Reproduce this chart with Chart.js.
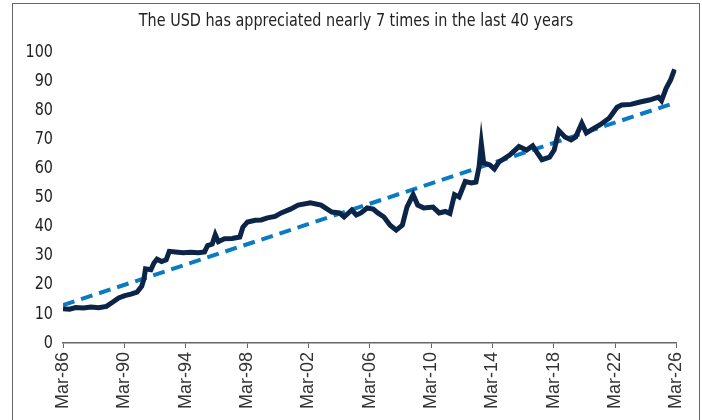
<!DOCTYPE html>
<html>
<head>
<meta charset="utf-8">
<script src="https://cdn.jsdelivr.net/npm/chart.js@4"></script>
<style>
  body { margin: 0; background: #fff; }
  #wrap { position: relative; width: 702px; height: 420px; overflow: hidden; }
  #frame { position: absolute; left: 12px; top: 3px; width: 688px; height: 440px; border: 1px solid #666; box-sizing: border-box; }
  canvas { position: absolute; left: 0; top: 0; }
</style>
</head>
<body>
<div id="wrap">
  <div id="frame"></div>
  <canvas id="grafico" width="702" height="420"></canvas>
</div>
<script>
// datas em anos decimais (Mar-86 = 1986.17)
const datas = [
  1986.17, 1986.6, 1987.0, 1987.5, 1988.0, 1988.5, 1989.0, 1989.4, 1989.8, 1990.2,
  1990.6, 1991.0, 1991.3, 1991.45, 1991.55, 1991.9, 1992.1, 1992.3, 1992.6, 1992.9,
  1993.1, 1993.5, 1994.0, 1994.5, 1995.0, 1995.4, 1995.6, 1995.9, 1996.1, 1996.3,
  1996.7, 1997.2, 1997.7, 1997.9, 1998.2, 1998.7, 1999.1, 1999.5, 2000.0, 2000.4,
  2001.0, 2001.5, 2002.3, 2003.0, 2003.7, 2004.2, 2004.5, 2005.0, 2005.3, 2005.6,
  2006.0, 2006.4, 2006.7, 2007.1, 2007.5, 2007.9, 2008.3, 2008.6, 2009.0, 2009.3,
  2009.7, 2010.3, 2010.7, 2011.1, 2011.4, 2011.7, 2012.0, 2012.4, 2012.8, 2013.1,
  2013.3, 2013.45, 2013.6, 2014.0, 2014.3, 2014.6, 2015.3, 2015.9, 2016.4, 2016.8,
  2017.1, 2017.4, 2017.9, 2018.2, 2018.5, 2018.9, 2019.3, 2019.6, 2020.0, 2020.3,
  2020.7, 2021.2, 2021.8, 2022.3, 2022.6, 2023.2, 2023.8, 2024.4, 2025.0, 2025.2,
  2025.5, 2025.8, 2026.05
];
const usd = [
  11.8, 11.6, 12.2, 12.0, 12.4, 12.1, 12.6, 14.0, 15.5, 16.3,
  16.8, 17.5, 19.5, 22.0, 25.5, 25.2, 27.5, 28.8, 28.0, 28.6,
  31.5, 31.3, 31.0, 31.2, 31.0, 31.3, 33.5, 34.0, 37.2, 34.8,
  35.8, 35.9, 36.4, 39.8, 41.6, 42.2, 42.3, 43.0, 43.5, 44.7,
  46.0, 47.4, 48.2, 47.4, 45.0, 44.7, 43.3, 45.7, 44.0, 44.7,
  46.4, 46.0, 44.7, 43.3, 40.5, 38.8, 40.5, 46.7, 51.0, 47.4,
  46.4, 46.7, 44.7, 45.2, 44.5, 51.0, 50.2, 55.5, 55.0, 55.3,
  60.5, 68.5, 61.9, 61.2, 59.8, 62.2, 64.6, 67.5, 66.3, 67.8,
  65.3, 63.0, 63.9, 66.3, 73.0, 70.8, 69.8, 70.8, 75.5, 72.2,
  73.5, 75.0, 77.3, 81.0, 81.8, 82.0, 82.8, 83.5, 84.5, 83.3,
  87.5, 90.5, 94.0
];
// linha de tendencia (inicio e fim)
const tendenciaDatas = [1986.17, 2026.05];
const tendencia = [13.0, 82.5];

const xTicks = [1986.17, 1990.17, 1994.17, 1998.17, 2002.17, 2006.17, 2010.17, 2014.17, 2018.17, 2022.17, 2026.17];
const xLabels = ["Mar-86", "Mar-90", "Mar-94", "Mar-98", "Mar-02", "Mar-06", "Mar-10", "Mar-14", "Mar-18", "Mar-22", "Mar-26"];
const titulo = "The USD has appreciated nearly 7 times in the last 40 years";

// fonte condensada nao existe aqui, entao estreito o texto na mao
function textoEstreito(c, txt, x, y, escala, align) {
  c.save();
  c.translate(x, y);
  c.scale(escala, 1);
  c.textAlign = align;
  c.fillText(txt, 0, 0);
  c.restore();
}

const textosPlugin = {
  id: "textosPlugin",
  afterDraw(chart) {
    const c = chart.ctx;
    c.save();
    c.fillStyle = "#222";
    c.textBaseline = "middle";
    c.font = "18px 'DejaVu Sans'";
    textoEstreito(c, titulo, 356, 21, 0.8, "center");

    // rotulos do eixo y
    const ey = chart.scales.y;
    ey.ticks.forEach((t) => {
      textoEstreito(c, String(t.value), 53, ey.getPixelForValue(t.value), 0.8, "right");
    });
    c.restore();
  },
};

const ctx = document.getElementById("grafico").getContext("2d");

new Chart(ctx, {
  type: "line",
  data: {
    datasets: [
      {
        label: "USD",
        data: datas.map((d, i) => ({ x: d, y: usd[i] })),
        borderColor: "#0b2447",
        borderWidth: 5,
        pointRadius: 0,
        tension: 0,
      },
      {
        label: "Tendência",
        data: tendenciaDatas.map((d, i) => ({ x: d, y: tendencia[i] })),
        borderColor: "#0a7bc2",
        borderWidth: 4,
        borderDash: [12, 7],
        pointRadius: 0,
      },
    ],
  },
  plugins: [textosPlugin],
  options: {
    responsive: false,
    animation: false,
    layout: { padding: { left: 0, right: 25, top: 52, bottom: 0 } },
    plugins: {
      legend: { display: false },
      tooltip: { enabled: false },
      title: { display: false },
    },
    scales: {
      x: {
        type: "linear",
        min: 1986.17,
        max: 2026.17,
        afterBuildTicks: (s) => {
          s.ticks = xTicks.map((v) => ({ value: v }));
        },
        afterFit: (s) => {
          s.height = 77;
        },
        ticks: {
          color: "#333",
          font: { family: "'Liberation Sans'", size: 18 },
          minRotation: 90,
          maxRotation: 90,
          padding: 4,
          callback: (v, i) => xLabels[i],
        },
        grid: { drawOnChartArea: false, color: "#666", tickLength: 5 },
        border: { color: "#666", width: 1.5 },
      },
      y: {
        min: 0,
        max: 100,
        afterFit: (s) => {
          s.width = 63;
        },
        ticks: { stepSize: 10, display: false },
        grid: { display: false, drawTicks: false },
        border: { display: false },
      },
    },
  },
});
</script>
</body>
</html>
